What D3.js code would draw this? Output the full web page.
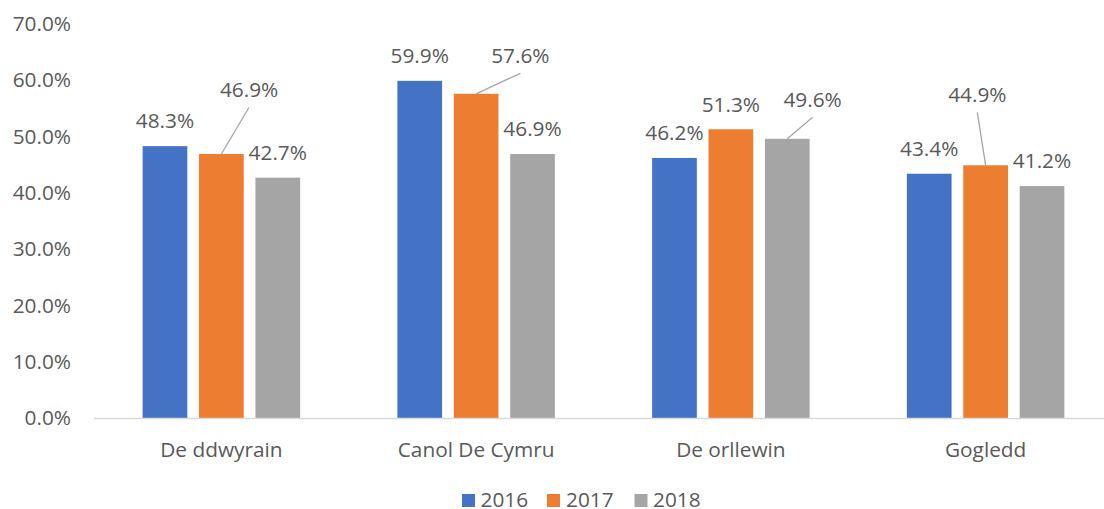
<!DOCTYPE html>
<html>
<head>
<meta charset="utf-8">
<script src="https://cdn.jsdelivr.net/npm/d3@7"></script>
<style>
  html, body { margin: 0; padding: 0; background: #fff; }
  svg { display: block; }
  text { font-family: "Open Sans", "Noto Sans", sans-serif; fill: #595959; }
</style>
</head>
<body>
<svg id="chart" width="1104" height="509"></svg>
<script>
const categories = ["De ddwyrain", "Canol De Cymru", "De orllewin", "Gogledd"];
const seriesNames = ["2016", "2017", "2018"];
const values2016 = [0.483, 0.599, 0.462, 0.434];
const values2017 = [0.469, 0.576, 0.513, 0.449];
const values2018 = [0.427, 0.469, 0.496, 0.412];
const yTicks = [0, 0.1, 0.2, 0.3, 0.4, 0.5, 0.6, 0.7];
const colors = ["#4472C4", "#ED7D31", "#A5A5A5"];
// moved data labels (with leader lines): [categoryIndex, seriesIndex, dx, dy]
const movedLabels = [[0, 1, 27.7, -39.6], [1, 1, 44.2, -13.3], [2, 2, 25.3, -14.4], [3, 1, -8.3, -45.8]];

const seriesValues = [values2016, values2017, values2018];
const svg = d3.select("#chart");
const FS = "20.8px";

const x0 = d3.scaleBand().domain(categories).range([94, 1113]).padding(0);
const x1 = d3.scaleBand().domain(seriesNames).range([0, x0.bandwidth()])
  .paddingInner(0.2074).paddingOuter(0.862);
const y = d3.scaleLinear().domain([0, 0.7]).range([418, 24]);
const fmt = d3.format(".1%");

// Y axis labels
const yAxis = d3.axisLeft(y).tickValues(yTicks).tickFormat(fmt).tickSize(0).tickPadding(0);
const gy = svg.append("g").attr("transform", "translate(71,0)").call(yAxis);
gy.select(".domain").remove();
gy.selectAll("text").style("font-size", FS).attr("fill", "#595959")
  .style("font-family", '"Open Sans", sans-serif');

// bars
const data = [];
categories.forEach((c, ci) => seriesNames.forEach((s, si) => {
  data.push({ c, ci, s, si, v: seriesValues[si][ci] });
}));

svg.append("g").selectAll("rect").data(data).join("rect")
  .attr("x", d => x0(d.c) + x1(d.s))
  .attr("y", d => y(d.v))
  .attr("width", x1.bandwidth())
  .attr("height", d => y(0) - y(d.v))
  .attr("fill", d => colors[d.si]);

// X axis
const xAxis = d3.axisBottom(x0).tickSize(0).tickPadding(0);
const gx = svg.append("g").attr("transform", `translate(0,${y(0)})`).call(xAxis);
gx.select(".domain").attr("stroke", "#d9d9d9").attr("stroke-width", 1.3)
  .attr("d", "M94,0.5H1113");
gx.selectAll("text").style("font-size", FS).attr("fill", "#595959")
  .attr("dy", null).attr("y", 39)
  .style("font-family", '"Open Sans", sans-serif');

// data labels
const moved = new Map(movedLabels.map(m => [m[0] + "_" + m[1], m]));
const labelG = svg.append("g");
data.forEach(d => {
  const cx = x0(d.c) + x1(d.s) + x1.bandwidth() / 2;
  const top = y(d.v);
  let lx = cx, ly = top - 17.7;
  const m = moved.get(d.ci + "_" + d.si);
  if (m) {
    lx += m[2]; ly += m[3];
    labelG.append("line")
      .attr("x1", cx).attr("y1", top)
      .attr("x2", lx).attr("y2", ly + 10.5)
      .attr("stroke", "#A6A6A6").attr("stroke-width", 1.3);
  }
  labelG.append("text").attr("x", lx).attr("y", ly)
    .attr("text-anchor", "middle").style("font-size", FS)
    .text(fmt(d.v));
});

// legend
const legendItems = [
  { name: seriesNames[0], sx: 462, tx: 480.5 },
  { name: seriesNames[1], sx: 547, tx: 566 },
  { name: seriesNames[2], sx: 634.5, tx: 653 }
];
const lg = svg.append("g");
legendItems.forEach((it, i) => {
  lg.append("rect").attr("x", it.sx).attr("y", 494).attr("width", 13).attr("height", 13)
    .attr("fill", colors[i]);
  lg.append("text").attr("x", it.tx).attr("y", 507).style("font-size", FS).text(it.name);
});
</script>
</body>
</html>
